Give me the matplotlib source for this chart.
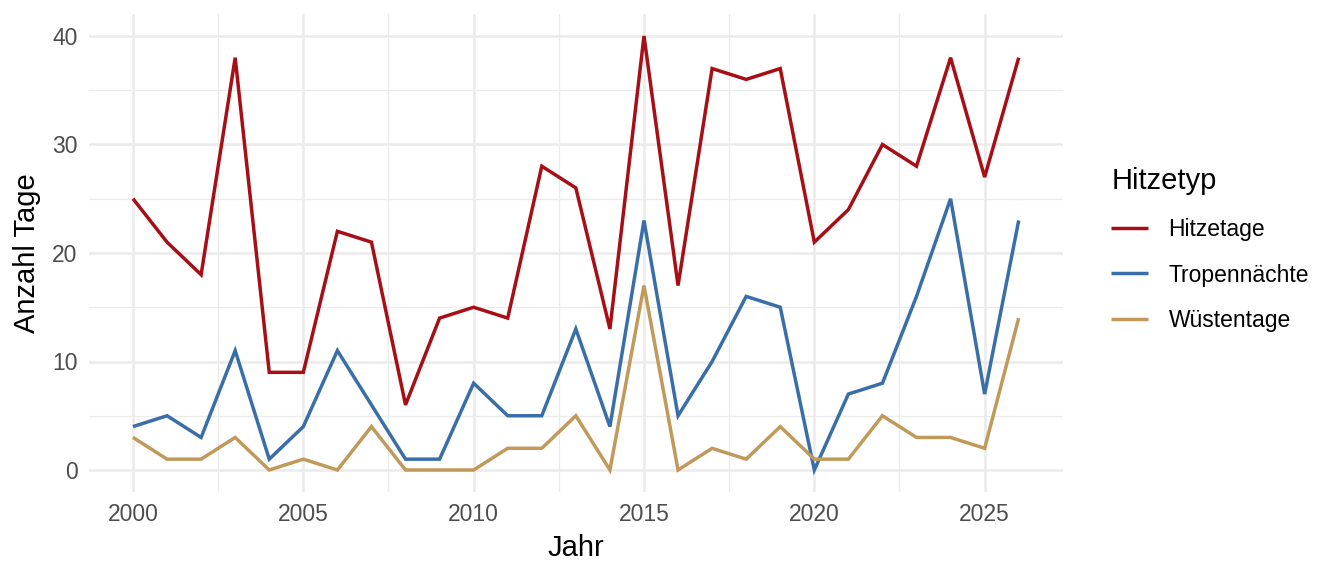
import matplotlib
matplotlib.use("Agg")
import matplotlib.pyplot as plt
from matplotlib.ticker import MultipleLocator

plt.rcParams['font.family'] = ['Liberation Sans', 'DejaVu Sans']

years = list(range(2000, 2027))
hitzetage = [25, 21, 18, 38, 9, 9, 22, 21, 6, 14, 15, 14, 28, 26, 13, 40, 17, 37, 36, 37, 21, 24, 30, 28, 38, 27, 38]
tropennaechte = [4, 5, 3, 11, 1, 4, 11, 6, 1, 1, 8, 5, 5, 13, 4, 23, 5, 10, 16, 15, 0, 7, 8, 16, 25, 7, 23]
wuestentage = [3, 1, 1, 3, 0, 1, 0, 4, 0, 0, 0, 2, 2, 5, 0, 17, 0, 2, 1, 4, 1, 1, 5, 3, 3, 2, 14]

series_names = ["Hitzetage", "Tropennächte", "Wüstentage"]
series_values = [hitzetage, tropennaechte, wuestentage]
series_colors = ["#A50F15", "#3A6EA8", "#C19A5B"]

fig = plt.figure(figsize=(13.44, 5.76), dpi=100)
ax = fig.add_axes([88.7 / 1344, 1 - 491.7 / 576, (1063 - 88.7) / 1344, (491.7 - 14.3) / 576])

for name, vals, col in zip(series_names, series_values, series_colors):
    ax.plot(years, vals, color=col, linewidth=2.5, label=name,
            solid_joinstyle='miter', solid_capstyle='butt')

ax.set_xlim(2000 - 1.3, 2026 + 1.3)
ax.set_ylim(-2, 42)
ax.xaxis.set_major_locator(MultipleLocator(5))
ax.xaxis.set_minor_locator(MultipleLocator(2.5))
ax.yaxis.set_major_locator(MultipleLocator(10))
ax.yaxis.set_minor_locator(MultipleLocator(5))
ax.grid(which='major', color='#EBEBEB', linewidth=1.8)
ax.grid(which='minor', color='#EBEBEB', linewidth=0.9)
ax.set_axisbelow(True)
for s in ax.spines.values():
    s.set_visible(False)
ax.tick_params(which='both', length=0, labelsize=16.5, labelcolor='#4D4D4D')
ax.tick_params(axis='x', pad=8)
ax.tick_params(axis='y', pad=8)

ax.set_xlabel("Jahr", fontsize=21, color='black', labelpad=6)
ax.set_ylabel("Anzahl Tage", fontsize=21, color='black', labelpad=8)

leg = ax.legend(loc='upper left', bbox_to_anchor=(1.040, 0.7), frameon=False,
                title="Hitzetyp", fontsize=16.5, title_fontsize=21,
                handlelength=1.6, handletextpad=0.9, labelspacing=1.0,
                alignment='left', borderaxespad=0)

fig.savefig("out.png", dpi=100, facecolor='white')
